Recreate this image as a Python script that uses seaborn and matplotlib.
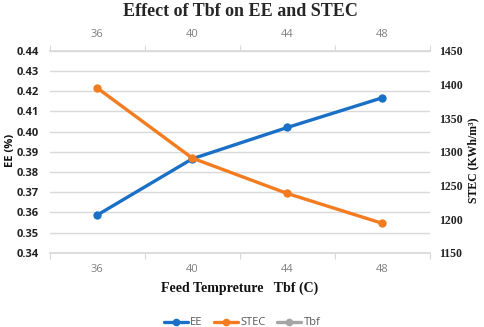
import matplotlib
matplotlib.use("Agg")
import matplotlib.pyplot as plt
from matplotlib.lines import Line2D
import seaborn as sns
import pandas as pd
import numpy as np

categories = ["36", "40", "44", "48"]
ee = [0.3587, 0.3865, 0.4020, 0.4167]
stec = [1394.5, 1290.5, 1238.0, 1193.7]
left_ticks = [0.34, 0.35, 0.36, 0.37, 0.38, 0.39, 0.40, 0.41, 0.42, 0.43, 0.44]
right_ticks = [1150, 1200, 1250, 1300, 1350, 1400, 1450]

sns.set_theme(style="white")
plt.rcParams['font.family'] = ['DejaVu Sans']

BLUE = "#1a6fc6"
ORANGE = "#f47c20"
GRAY = "#a5a5a5"
GRID = "#d9d9d9"
SERIF = "Liberation Serif"
SANS = "Open Sans"

df = pd.DataFrame({"pos": np.arange(len(categories)), "EE": ee, "STEC": stec})

fig = plt.figure(figsize=(4.84, 3.27), dpi=100)
ax = fig.add_axes([0.103, 0.227, 0.785, 0.618])
ax2 = ax.twinx()

sns.lineplot(data=df, x="pos", y="EE", ax=ax, color=BLUE, lw=2.4, marker="o",
             markersize=6, markeredgewidth=0)
sns.lineplot(data=df, x="pos", y="STEC", ax=ax2, color=ORANGE, lw=2.4, marker="o",
             markersize=6, markeredgewidth=0)

ax.set_xlim(-0.5, len(categories) - 0.5)
ax.set_ylim(0.34, 0.44)
ax2.set_ylim(1150, 1450)

ax.set_yticks(left_ticks)
ax.set_yticklabels([f"{v:.2f}" for v in left_ticks], fontsize=8, fontweight="bold",
                   family=SANS, color="#222222")
ax.yaxis.grid(True, color=GRID, lw=1)
ax.set_axisbelow(True)
ax.tick_params(axis="y", length=0, pad=8)

ax2.set_yticks(right_ticks)
ax2.set_yticklabels([str(v) for v in right_ticks], fontsize=8.5, fontweight="bold",
                    family=SERIF, color="#222222")
ax2.tick_params(axis="y", length=0, pad=7)

pos = np.arange(len(categories))
ax.set_xticks(pos)
ax.set_xticklabels(categories, fontsize=8, color="#808080", family=SANS)
ax.set_xticks(np.arange(-0.5, len(categories)), minor=True)
ax.tick_params(axis="x", which="major", length=0, pad=8, top=True, labeltop=True)
ax.tick_params(axis="x", which="minor", length=4, width=0.8, color=GRID,
               bottom=True, top=True)
ax2.tick_params(axis="x", which="both", length=0)

for a in (ax, ax2):
    for s in ["left", "right", "top", "bottom"]:
        a.spines[s].set_visible(False)
ax.spines["bottom"].set_visible(True)
ax.spines["bottom"].set_color(GRID)
ax.spines["top"].set_visible(True)
ax.spines["top"].set_color(GRID)

ax.set_xlabel("Feed Tempreture   Tbf (C)", fontsize=10, fontweight="bold",
              family=SERIF, color="#111111", labelpad=5)
ax.set_ylabel("")
ax2.set_ylabel("")
fig.text(0.022, 0.54, "EE (%)", rotation=90, ha="center", va="center", fontsize=8,
         fontweight="bold", family=SANS, color="#111111")
fig.text(0.978, 0.51, "STEC (KWh/m³)", rotation=90, ha="center", va="center",
         fontsize=8.5, fontweight="bold", family=SERIF, color="#111111")

fig.suptitle("Effect of Tbf on EE and STEC", fontsize=13, fontweight="bold",
             family=SERIF, y=0.99, x=0.497)

handles = [Line2D([], [], color=c, lw=2.4, marker="o", markersize=5.5, markeredgewidth=0)
           for c in (BLUE, ORANGE, GRAY)]
fig.legend(handles, ["EE", "STEC", "Tbf"], loc="lower center", ncol=3, frameon=False,
           bbox_to_anchor=(0.5, -0.035), prop={"family": SANS, "size": 8},
           labelcolor="#595959", handlelength=2.2, handletextpad=0.2, columnspacing=1.0)

fig.savefig("out.png", dpi=100)
